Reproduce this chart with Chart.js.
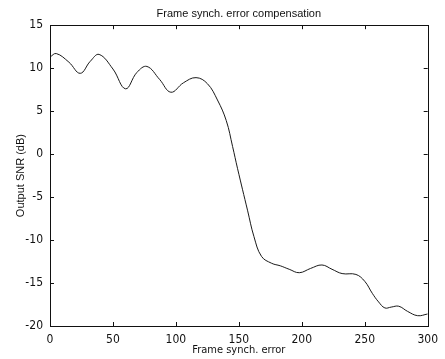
<!DOCTYPE html>
<html>
<head>
<meta charset="utf-8">
<script src="https://cdn.jsdelivr.net/npm/chart.js@4.4.0/dist/chart.umd.min.js"></script>
<style>
  html, body { margin: 0; padding: 0; background: #fff; }
  #wrap { width: 445px; height: 359px; }
</style>
</head>
<body>
<div id="wrap"><canvas id="snrChart" width="445" height="359"></canvas></div>
<script>
// frame synch error (x) and output SNR in dB (y)
var synchError = [0, 5, 15, 24, 32, 39, 50, 60, 69, 77, 87, 96, 106, 116, 125, 133, 140, 145, 149, 157, 162, 168, 176, 183, 190, 198, 207, 216, 224, 232, 243, 250, 256, 261, 266, 271, 277, 284, 292, 300];
var outputSnr  = [11.3, 11.7, 10.7, 9.4, 10.8, 11.6, 9.9, 7.6, 9.5, 10.2, 8.7, 7.2, 8.3, 8.9, 8.2, 6.3, 3.9, 0.9, -1.7, -6.6, -9.6, -11.9, -12.7, -13.0, -13.4, -13.8, -13.3, -12.9, -13.4, -13.9, -14.0, -14.8, -16.2, -17.2, -17.9, -17.8, -17.7, -18.3, -18.8, -18.6];
var xTicks = [0, 50, 100, 150, 200, 250, 300];
var yTicks = [-20, -15, -10, -5, 0, 5, 10, 15];

var points = synchError.map(function (x, i) { return { x: x, y: outputSnr[i] }; });
var font = 'Arial, "Liberation Sans", Helvetica, sans-serif';
var narrow = '"Liberation Sans Narrow", "DejaVu Sans Condensed", Arial, sans-serif';

// matlab style box with inward ticks on all four sides
var boxTicks = {
  id: 'boxTicks',
  afterDraw: function (chart) {
    var ctx = chart.ctx, a = chart.chartArea;
    var xs = chart.scales.x, ys = chart.scales.y, len = 4;
    ctx.save();
    ctx.strokeStyle = '#111';
    ctx.lineWidth = 1;
    ctx.strokeRect(Math.round(a.left) + 0.5, Math.round(a.top) + 0.5, Math.round(a.right - a.left), Math.round(a.bottom - a.top));
    ctx.beginPath();
    xTicks.forEach(function (v) {
      var px = Math.round(xs.getPixelForValue(v)) + 0.5;
      ctx.moveTo(px, a.bottom); ctx.lineTo(px, a.bottom - len);
      ctx.moveTo(px, a.top); ctx.lineTo(px, a.top + len);
    });
    yTicks.forEach(function (v) {
      var py = Math.round(ys.getPixelForValue(v)) + 0.5;
      ctx.moveTo(a.left, py); ctx.lineTo(a.left + len, py);
      ctx.moveTo(a.right, py); ctx.lineTo(a.right - len, py);
    });
    ctx.stroke();
    ctx.restore();
  }
};

new Chart(document.getElementById('snrChart'), {
  type: 'line',
  data: {
    datasets: [{
      data: points,
      borderColor: '#1a1a1a',
      borderWidth: 1,
      pointRadius: 0,
      fill: false,
      tension: 0.4
    }]
  },
  options: {
    responsive: false,
    animation: false,
    layout: { padding: { left: 0, right: 12, top: 0, bottom: 0 } },
    plugins: {
      legend: { display: false },
      tooltip: { enabled: false },
      title: {
        display: true,
        text: 'Frame synch. error compensation',
        fullSize: false,
        color: '#111',
        font: { family: font, size: 11, weight: 'normal' },
        padding: { top: 7, bottom: 5 }
      }
    },
    scales: {
      x: {
        type: 'linear',
        min: 0, max: 300,
        afterBuildTicks: function (s) { s.ticks = xTicks.map(function (v) { return { value: v }; }); },
        afterFit: function (s) { s.height = 33; },
        grid: { display: false, drawTicks: false },
        border: { display: false },
        ticks: { color: '#111', padding: 7, maxRotation: 0, font: { family: narrow, size: 12 } },
        title: {
          display: true, text: 'Frame synch. error', color: '#111',
          font: { family: narrow, size: 11 }, padding: { top: 0, bottom: 2 }
        }
      },
      y: {
        min: -20, max: 15,
        afterBuildTicks: function (s) { s.ticks = yTicks.map(function (v) { return { value: v }; }); },
        afterFit: function (s) { s.width = 50; },
        grid: { display: false, drawTicks: false },
        border: { display: false },
        ticks: { color: '#111', padding: 7, font: { family: narrow, size: 12 } },
        title: {
          display: true, text: 'Output SNR (dB)', color: '#111',
          font: { family: font, size: 11 }, padding: { top: 14, bottom: 0 }
        }
      }
    }
  },
  plugins: [boxTicks]
});
</script>
</body>
</html>
